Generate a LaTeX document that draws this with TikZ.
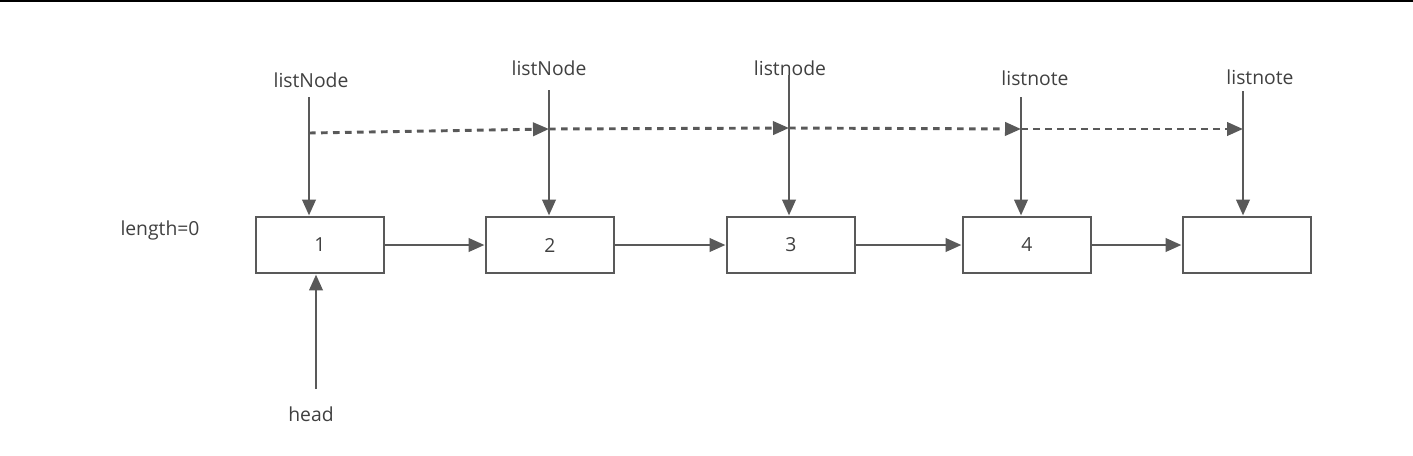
\documentclass[tikz,border=0pt]{standalone}
\usepackage{fontspec}
\setmainfont{Open Sans}
\usepackage{tikz}
\usetikzlibrary{arrows.meta}
\definecolor{linegray}{HTML}{595959}
\definecolor{textgray}{HTML}{404040}
\tikzset{
  cell/.style={draw=linegray, line width=2.2pt, minimum width=96pt, minimum height=42pt, inner sep=0pt, text=textgray, font=\fontsize{14.5}{17}\selectfont},
  lbl/.style={text=textgray, inner sep=0pt, font=\fontsize{14.5}{17}\selectfont},
  link/.style={draw=linegray, line width=2.2pt, -{Triangle[length=12pt,width=10pt]}},
  walk/.style={link, dash pattern=on 5pt off 4pt}
}

\begin{document}
\begin{tikzpicture}[x=0.75pt,y=-0.75pt]
\useasboundingbox (0,0) rectangle (1413,455);
\draw[black, line width=1.2pt] (0,0.8) -- (1413,0.8);

% the list
\node[cell] (n1) at (320,245) {1};
\node[cell] (n2) at (550,245) {2};
\node[cell] (n3) at (791,245) {3};
\node[cell] (n4) at (1027,245) {4};
\node[cell] (n5) at (1247,245) {};

\draw[link] (n1) -- (n2);
\draw[link] (n2) -- (n3);
\draw[link] (n3) -- (n4);
\draw[link] (n4) -- (n5);

% labels
\node[lbl] (len) at (160,230) {length=0};
\node[lbl] (l1) at (311,80) {listNode};
\node[lbl] (l2) at (549,68) {listNode};
\node[lbl] (l3) at (790,68) {listnode};
\node[lbl] (l4) at (1035,78) {listnote};
\node[lbl] (l5) at (1260,77) {listnote};
\node[lbl] (hd) at (311,414) {head};

% pointers
\coordinate (t1) at (309,97);
\coordinate (t2) at (549,90);
\coordinate (t3) at (789,75);
\coordinate (t4) at (1021,97);
\coordinate (t5) at (1243,91);
\draw[link] (t1) -- (t1 |- n1.north);
\draw[link] (t2) -- (t2 |- n2.north);
\draw[link] (t3) -- (t3 |- n3.north);
\draw[link] (t4) -- (t4 |- n4.north);
\draw[link] (t5) -- (t5 |- n5.north);

\coordinate (h) at (316,389);
\draw[link] (h) -- (h |- n1.south);

%\draw[walk] (d0) -- (d1);
\coordinate (d1) at (309,133);
\coordinate (d2) at (549,129);
\coordinate (d3) at (789,128);
\coordinate (d4) at (1021,129);
\coordinate (d5) at (1243,129);
\draw[walk] (d1) -- (d2);
\draw[walk] (d2) -- (d3);
\draw[walk] (d3) -- (d4);
\draw[walk] (d4) -- (d5);
\end{tikzpicture}
\end{document}
